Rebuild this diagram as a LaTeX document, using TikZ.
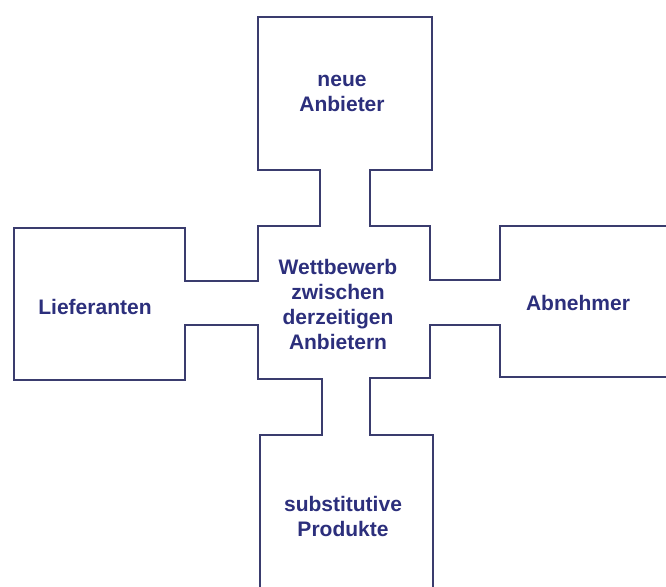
\documentclass[tikz,border=0pt]{standalone}
\usepackage{fontspec}
\setmainfont{Liberation Sans}
\usepackage{tikz}
\usetikzlibrary{positioning}
\definecolor{ink}     {HTML}{2C2F7C}
\definecolor{rim}     {HTML}{3A3C6E}
\tikzset{
  every node/.style={font=\fontsize{21}{25}\selectfont\bfseries},
  % --- text
  lbl/.style  = {align=center, text=ink, inner sep=0pt},
  % --- outline
  rimline/.style = {draw=rim, line width=2.8pt, line join=miter},
}
\begin{document}
\begin{tikzpicture}[x=1pt,y=-1pt]
  \fill[white] (0,0) rectangle (666,586);
  \useasboundingbox (0,0) rectangle (666,586);
  % outline, left and top part
  \draw[rimline] (260,590) -- (260,435) -- (322,435) -- (322,379) -- (258,379)
    -- (258,325) -- (185,325) -- (185,380) -- (14,380) -- (14,228) -- (185,228)
    -- (185,281) -- (258,281) -- (258,226) -- (320,226) -- (320,170) -- (258,170)
    -- (258,17) -- (432,17) -- (432,170) -- (370,170) -- (370,226) -- (430,226)
    -- (430,280) -- (500,280) -- (500,226) -- (670,226);
  % outline, right and bottom part
  \draw[rimline] (670,377) -- (500,377) -- (500,325) -- (430,325) -- (430,378)
    -- (370,378) -- (370,435) -- (433,435) -- (433,590);
  % labels
  \node[lbl] (wett)  at (338,304) {Wettbewerb\\zwischen\\derzeitigen\\Anbietern};
  \node[lbl] (neu)   at (342,93)  {neue\\Anbieter};
  \node[lbl] (lief)  at (95,307)  {Lieferanten};
  \node[lbl] (abn)   at (578,303) {Abnehmer};
  \node[lbl] (subst) at (343,516) {substitutive\\Produkte};
\end{tikzpicture}
\end{document}
